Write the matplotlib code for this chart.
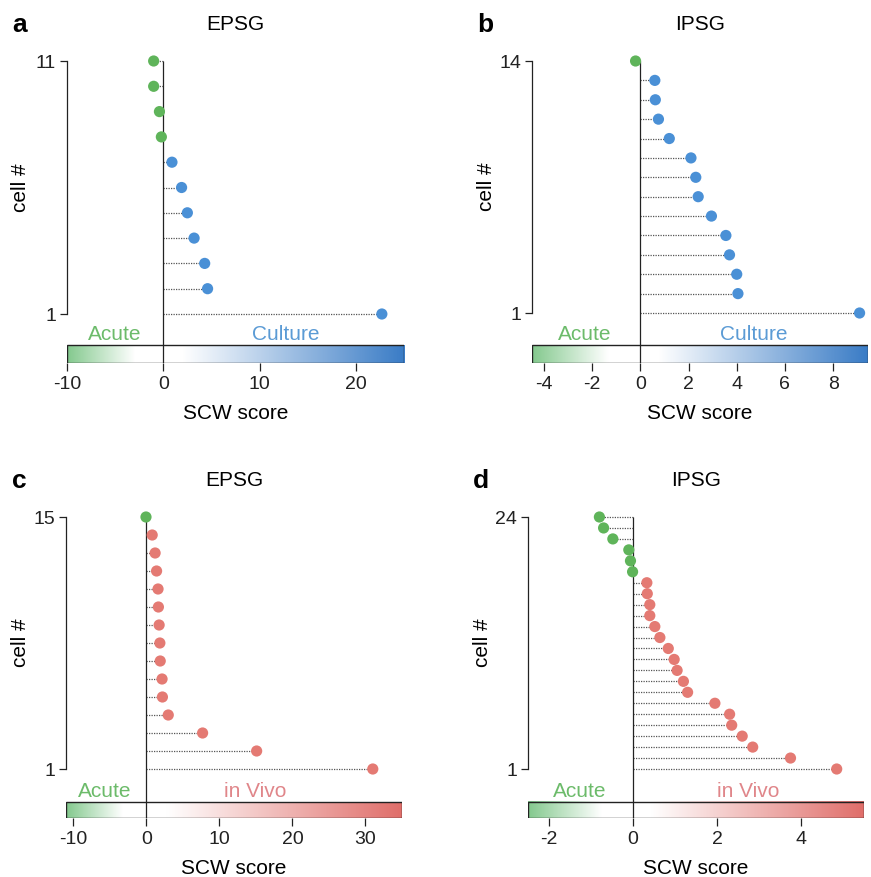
import numpy as np
import matplotlib
matplotlib.use('Agg')
import matplotlib.pyplot as plt
from matplotlib.colors import LinearSegmentedColormap
from matplotlib.patches import Rectangle

plt.rcParams['font.family'] = ['Liberation Sans', 'DejaVu Sans']
plt.rcParams['axes.unicode_minus'] = False

# SCW score per cell, listed from cell 1 (bottom) to cell N (top)
epsg_culture = [22.7, 4.6, 4.3, 3.2, 2.5, 1.9, 0.9, -0.2, -0.4, -1.0, -1.0]
ipsg_culture = [9.1, 4.05, 4.0, 3.7, 3.55, 2.95, 2.4, 2.3, 2.1, 1.2, 0.75, 0.62, 0.6, -0.2]
epsg_vivo = [31.0, 15.1, 7.7, 3.0, 2.2, 2.15, 1.9, 1.85, 1.75, 1.65, 1.6, 1.4, 1.2, 0.8, -0.05]
ipsg_vivo = [4.85, 3.75, 2.85, 2.6, 2.35, 2.3, 1.95, 1.3, 1.2, 1.05, 0.98, 0.84, 0.64,
             0.52, 0.4, 0.4, 0.34, 0.33, -0.01, -0.06, -0.1, -0.48, -0.7, -0.8]

xlims = [(-10, 25), (-4.5, 9.45), (-11, 35), (-2.5, 5.5)]
xticks = [[-10, 0, 10, 20], [-4, -2, 0, 2, 4, 6, 8], [-10, 0, 10, 20, 30], [-2, 0, 2, 4]]
titles = ['EPSG', 'IPSG', 'EPSG', 'IPSG']
letters = ['a', 'b', 'c', 'd']
right_labels = ['Culture', 'Culture', 'in Vivo', 'in Vivo']
label_x = [(-5, 12.7), (-2.3, 4.7), (-5.7, 14.9), (-1.27, 2.75)]

green = '#5fb45a'
blue = '#4a90d6'
red = '#e47a73'
grad_green = '#84c98e'
grad_blue = '#3a7cc6'
grad_red = '#e06e6a'

W, H = 871, 877
fig = plt.figure(figsize=(W / 100, H / 100), dpi=100)

# pixel layout: left, right, y of top cell, y of cell 1, bar top, bar bottom
boxes = [(67, 404, 61, 314, 345, 363),
         (532, 868, 61, 313, 345, 363),
         (66, 402, 517, 769, 802, 818),
         (528, 864, 517, 769, 802, 818)]

data = [epsg_culture, ipsg_culture, epsg_vivo, ipsg_vivo]

for i in range(4):
    vals = np.array(data[i])
    n = len(vals)
    cells = np.arange(1, n + 1)
    l, r, ytop, yone, btop, bbot = boxes[i]
    sp = (yone - ytop) / (n - 1)
    axtop = ytop - 12
    ax = fig.add_axes([l / W, 1 - bbot / H, (r - l) / W, (bbot - axtop) / H])
    lo = 1 - (bbot - yone) / sp
    hi = n + (ytop - axtop) / sp
    bar_top = 1 - (btop - yone) / sp
    x0, x1 = xlims[i]

    pos_col = blue if i < 2 else red
    pos_grad = grad_blue if i < 2 else grad_red
    txt_col = '#5b9bd5' if i < 2 else '#e0868a'

    # colour bar
    p0 = (0 - x0) / (x1 - x0)
    cmap = LinearSegmentedColormap.from_list('g', [
        (0, grad_green), (0.7 * p0, 'white'), (p0 + 0.08 * (1 - p0), 'white'), (1, pos_grad)])
    grad = np.linspace(0, 1, 512)[None, :]
    ax.imshow(grad, extent=[x0, x1, lo, bar_top], aspect='auto', cmap=cmap, zorder=1)
    ax.add_patch(Rectangle((x0, lo), x1 - x0, bar_top - lo, fill=False, ec='#222', lw=1.0, zorder=2))

    ax.hlines(cells, 0, vals, linestyles=(0, (1, 1)), colors='#555', lw=0.9, zorder=2)
    ax.vlines(0, lo, n, color='#222', lw=0.9, zorder=2)
    cols = [green if v < 0 else pos_col for v in vals]
    ax.scatter(vals, cells, s=65, c=cols, edgecolors='none', zorder=3, clip_on=False)

    ax.set_xlim(x0, x1)
    ax.set_ylim(lo, hi)
    for s in ['top', 'right', 'bottom']:
        ax.spines[s].set_visible(False)
    ax.spines['left'].set_bounds(1, n)
    ax.spines['left'].set_linewidth(0.9)
    ax.spines['left'].set_color('#222')
    ax.set_yticks([1, n])
    ax.set_xticks(xticks[i])
    ax.tick_params(axis='y', length=5, width=0.9, pad=3, labelsize=14, colors='#222')
    ax.tick_params(axis='x', length=6, width=0.9, pad=3, labelsize=14, colors='#222')

    ty = bar_top + 5 / sp
    ax.text(label_x[i][0], ty, 'Acute', color='#6cbb6a', ha='center', va='baseline', fontsize=15)
    ax.text(label_x[i][1], ty, right_labels[i], color=txt_col, ha='center', va='baseline', fontsize=15)

    cx = (l + r) / 2
    fig.text(cx / W, 1 - (ytop - 36) / H, titles[i], ha='center', va='center', fontsize=15)
    fig.text((l - 47) / W, 1 - (ytop - 36) / H, letters[i], ha='center', va='center',
             fontsize=19, fontweight='bold')
    fig.text((l - 46) / W, 1 - ((ytop + yone) / 2) / H, 'cell #', rotation=90,
             ha='center', va='center', fontsize=15)
    fig.text(cx / W, 1 - (bbot + 50) / H, 'SCW score', ha='center', va='center', fontsize=15)

fig.savefig('out.png', dpi=100)
